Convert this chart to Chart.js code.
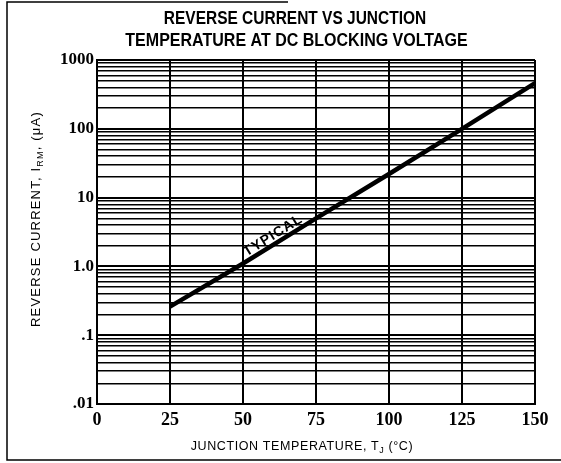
<!DOCTYPE html>
<html>
<head>
<meta charset="utf-8">
<script src="https://cdn.jsdelivr.net/npm/chart.js@4.4.1/dist/chart.umd.min.js"></script>
<style>
html,body{margin:0;padding:0;background:#fff;}
canvas{display:block;}
</style>
</head>
<body>
<canvas id="c" width="561" height="463"></canvas>
<script>
// ---- data ----
const temps = [25, 50, 75, 100, 125, 150];            // junction temperature, °C
const current = [0.26, 1.1, 5, 22, 100, 460];        // reverse current, µA (typical)
const xTicks = [0, 25, 50, 75, 100, 125, 150];
const yDecades = [0.01, 0.1, 1, 10, 100, 1000];
const yTickLabels = ['.01', '.1', '1.0', '10', '100', '1000'];
const titleLines = ['REVERSE CURRENT VS JUNCTION', 'TEMPERATURE AT DC BLOCKING VOLTAGE'];
const curveLabel = 'TYPICAL';

// log grid values 1..9 x 10^n
const yGridValues = [];
yDecades.forEach((d, i) => {
  if (i === yDecades.length - 1) { yGridValues.push(d); return; }
  for (let k = 1; k <= 9; k++) yGridValues.push(+(d * k).toPrecision(3));
});

const SERIF = '"Liberation Serif", "DejaVu Serif", serif';
const SANS = '"Liberation Sans", Arial, sans-serif';

const decorations = {
  id: 'decorations',
  afterDraw(chart) {
    const ctx = chart.ctx;
    const xs = chart.scales.x, ys = chart.scales.y;
    ctx.save();
    // outer frame pieces
    ctx.strokeStyle = '#000';
    ctx.lineWidth = 1.5;
    ctx.beginPath();
    ctx.moveTo(288, 2); ctx.lineTo(7, 2); ctx.lineTo(7, 460); ctx.lineTo(561, 460);
    ctx.stroke();

    // title (condensed bold)
    ctx.fillStyle = '#000';
    ctx.font = 'bold 18px ' + SANS;
    ctx.textAlign = 'center';
    ctx.textBaseline = 'middle';
    ctx.save();
    ctx.translate(295, 19.5);
    ctx.scale(0.86, 1);
    ctx.fillText(titleLines[0], 0, 0);
    ctx.restore();
    ctx.save();
    ctx.translate(296.5, 41);
    ctx.scale(0.89, 1);
    ctx.fillText(titleLines[1], 0, 0);
    ctx.restore();

    // x title
    ctx.font = '12.5px ' + SANS;
    ctx.textBaseline = 'alphabetic';
    const xa = 'JUNCTION TEMPERATURE, T', xs1 = 'J', xb = ' (°C)';
    ctx.letterSpacing = '0.6px';
    const wA = ctx.measureText(xa).width;
    ctx.font = '9px ' + SANS;
    const wS = ctx.measureText(xs1).width;
    ctx.font = '12.5px ' + SANS;
    const wB = ctx.measureText(xb).width;
    let x0 = 302 - (wA + wS + wB) / 2;
    const by = 450;
    ctx.textAlign = 'left';
    ctx.fillText(xa, x0, by);
    ctx.font = '9px ' + SANS;
    ctx.fillText(xs1, x0 + wA, by + 3);
    ctx.font = '12.5px ' + SANS;
    ctx.fillText(xb, x0 + wA + wS, by);

    // y title (rotated)
    ctx.save();
    ctx.translate(40, 219);
    ctx.rotate(-Math.PI / 2);
    const ya = 'REVERSE CURRENT, I', ys1 = 'RM', yb = ', (\u03BCA)';
    ctx.font = '13px ' + SANS;
    ctx.letterSpacing = '1.2px';
    const yA = ctx.measureText(ya).width;
    ctx.font = '9px ' + SANS;
    const yS = ctx.measureText(ys1).width;
    ctx.font = '13px ' + SANS;
    const yB = ctx.measureText(yb).width;
    let y0 = -(yA + yS + yB) / 2;
    ctx.fillText(ya, y0, 0);
    ctx.font = '9px ' + SANS;
    ctx.fillText(ys1, y0 + yA, 3);
    ctx.font = '13px ' + SANS;
    ctx.fillText(yb, y0 + yA + yS, 0);
    ctx.restore();

    // curve label, placed between the 2nd and 3rd data points
    const px1 = xs.getPixelForValue(temps[1]), py1 = ys.getPixelForValue(current[1]);
    const px2 = xs.getPixelForValue(temps[2]), py2 = ys.getPixelForValue(current[2]);
    const ang = Math.atan2(py2 - py1, px2 - px1);
    const t = 0.47;
    ctx.save();
    ctx.translate(px1 + (px2 - px1) * t, py1 + (py2 - py1) * t);
    ctx.rotate(ang);
    ctx.font = 'bold 14px ' + SANS;
    ctx.letterSpacing = '1px';
    ctx.textAlign = 'center';
    ctx.textBaseline = 'alphabetic';
    ctx.fillText(curveLabel, 0, -4);
    ctx.restore();

    ctx.restore();
  }
};

new Chart(document.getElementById('c'), {
  type: 'line',
  data: {
    datasets: [{
      data: temps.map((t, i) => ({ x: t, y: current[i] })),
      borderColor: '#000',
      borderWidth: 4.5,
      pointRadius: 0,
      tension: 0,
      fill: false
    }]
  },
  options: {
    responsive: false,
    animation: false,
    devicePixelRatio: 1,
    layout: { padding: { top: 60, right: 26, left: 0, bottom: 0 } },
    plugins: { legend: { display: false }, tooltip: { enabled: false }, title: { display: false } },
    scales: {
      x: {
        type: 'linear',
        min: 0, max: 150,
        afterBuildTicks: (s) => { s.ticks = xTicks.map(v => ({ value: v })); },
        afterFit: (s) => { s.height = 59; },
        grid: { color: '#000', lineWidth: 2, drawTicks: false },
        border: { color: '#000', width: 2 },
        ticks: {
          color: '#000', padding: 6, maxRotation: 0, autoSkip: false,
          font: { family: SERIF, size: 18, weight: 'bold' }
        }
      },
      y: {
        type: 'logarithmic',
        min: 0.01, max: 1000,
        afterBuildTicks: (s) => { s.ticks = yGridValues.map(v => ({ value: v })); },
        afterFit: (s) => { s.width = 97; },
        grid: {
          color: '#000', drawTicks: false,
          lineWidth: (c) => (yDecades.includes(c.tick && c.tick.value) ? 2 : 1.5)
        },
        border: { color: '#000', width: 2 },
        ticks: {
          color: '#000', padding: 3, autoSkip: false,
          font: { family: SERIF, size: 17, weight: 'bold' },
          callback: (v) => { const i = yDecades.indexOf(v); return i >= 0 ? yTickLabels[i] : ''; }
        }
      }
    }
  },
  plugins: [decorations]
});
</script>
</body>
</html>
